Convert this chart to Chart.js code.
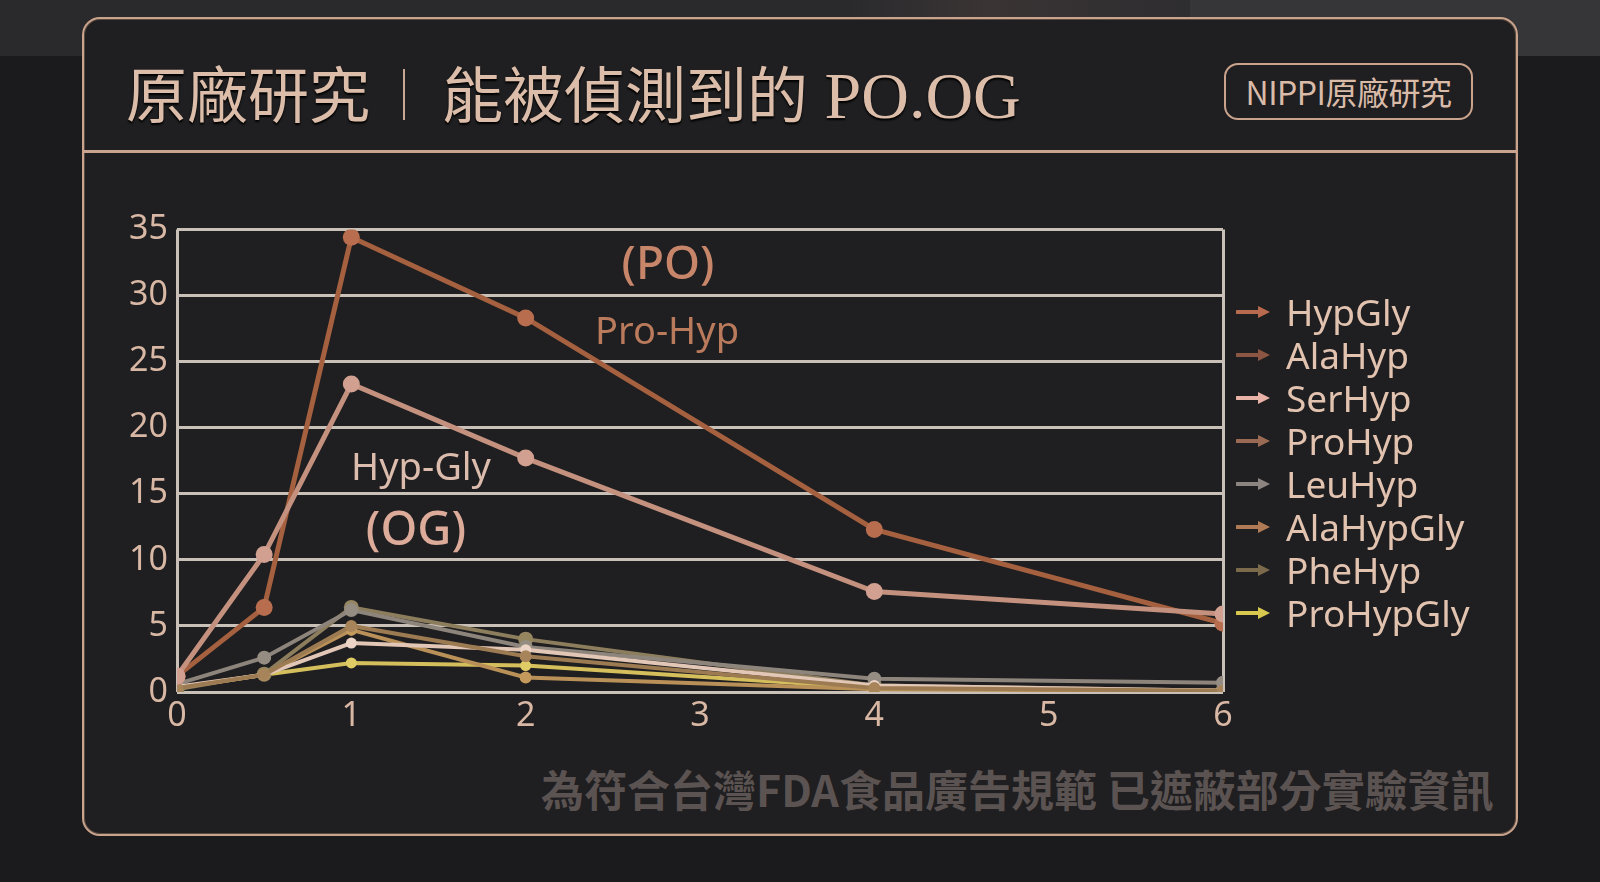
<!DOCTYPE html>
<html>
<head>
<meta charset="utf-8">
<script src="https://cdn.jsdelivr.net/npm/chart.js@4.4.1/dist/chart.umd.min.js"></script>
<style>
  html, body { margin: 0; padding: 0; }
  body {
    width: 1600px; height: 882px; position: relative; overflow: hidden;
    background: linear-gradient(#2a2a2d 0px, #2a2a2d 56px, #1b1b1d 56px, #1b1b1d 100%);
    font-family: "Noto Sans", "Noto Sans CJK TC", sans-serif;
  }
  #photo { position: absolute; left: 1190px; top: 0; width: 410px; height: 56px; background: #363537; }
  #photo2 { position: absolute; left: 850px; top: 0; width: 340px; height: 56px;
    background: linear-gradient(90deg, #2a2a2d, #3a3434 40%, #2e2d30); }
  #frame {
    position: absolute; left: 82px; top: 17px; width: 1432px; height: 815px;
    border: 2px solid #c9a38c; border-radius: 18px; background: #1f1e20;
    box-shadow: inset 0 0 0 1px #5a4a40;
  }
  #rule { position: absolute; left: 84px; top: 150px; width: 1432px; height: 3px; background: #c9a590; }
  #title {
    position: absolute; left: 126px; top: 52px; height: 80px; line-height: 80px;
    color: #dcbda9; font-size: 66px; white-space: nowrap;
    font-family: "Liberation Serif", "Noto Sans CJK TC", serif;
    text-shadow: 0 2px 2px #000;
  }
  #title .cjk { font-family: "Noto Sans CJK TC", sans-serif; font-weight: 400; font-size: 61px; }
  #bar { position: absolute; left: 403px; top: 69px; width: 2px; height: 51px; background: #c7a692; }
  #badge {
    position: absolute; left: 1224px; top: 63px; width: 245px; height: 53px;
    border: 2px solid #c9a38c; border-radius: 14px;
    color: #d9bba8; font-family: "Noto Sans CJK TC", sans-serif; font-size: 32px;
    line-height: 53px; text-align: center; white-space: nowrap; letter-spacing: -0.5px;
  }
  #chartBox { position: absolute; left: 100px; top: 200px; width: 1140px; height: 540px; }
  .note { position: absolute; transform: translate(-50%, -50%); white-space: nowrap;
    font-family: "Noto Sans", sans-serif; }
  #legend { position: absolute; left: 1236px; top: 290px; }
  .row { height: 43px; display: flex; align-items: center; }
  .row svg { margin-right: 14px; }
  .row span { color: #e2c3b0; font-size: 37px; font-family: "Noto Sans", sans-serif; }
  #foot {
    position: absolute; left: 541px; top: 757px; color: #5b5351;
    font-family: "Noto Sans CJK TC", sans-serif; font-weight: 700; font-size: 43px;
    white-space: nowrap;
  }
</style>
</head>
<body>
<div id="photo2"></div>
<div id="photo"></div>
<div id="frame"></div>
<div id="rule"></div>
<div id="title"><span class="cjk">原廠研究</span><span style="display:inline-block;width:72px"></span><span class="cjk">能被偵測到的</span> PO.OG</div>
<div id="bar"></div>
<div id="badge">NIPPI原廠研究</div>
<div id="chartBox"><canvas id="chart" width="1140" height="540"></canvas></div>
<div class="note" style="left:668px;top:261px;color:#c7866a;font-size:46px;font-weight:500">(PO)</div>
<div class="note" style="left:667px;top:329px;color:#ba7a5c;font-size:38px">Pro-Hyp</div>
<div class="note" style="left:421px;top:465px;color:#dcbcac;font-size:38px">Hyp-Gly</div>
<div class="note" style="left:416px;top:527px;color:#dcab9a;font-size:47px;font-weight:500">(OG)</div>
<div id="legend"></div>
<div id="foot">為符合台灣FDA食品廣告規範 已遮蔽部分實驗資訊</div>

<script>
// sampling times (x axis)
const hours = [0, 0.5, 1, 2, 4, 6];

// series values
const hypGly    = [1.2, 10.4, 23.3, 17.7, 7.6, 5.9];
const alaHyp    = [0.3, 1.3, 5.0, 2.7, 0.3, 0.1];
const serHyp    = [0.4, 1.3, 3.7, 3.2, 0.5, 0.1];
const proHyp    = [1.2, 6.4, 34.4, 28.3, 12.3, 5.2];
const leuHyp    = [0.6, 2.6, 6.2, 3.4, 1.0, 0.7];
const alaHypGly = [0.3, 1.3, 4.7, 1.1, 0.2, 0.1];
const pheHyp    = [0.2, 1.35, 6.4, 4.0, 0.5, 0.1];
const proHypGly = [0.3, 1.3, 2.2, 2.0, 0.3, 0.1];

const seriesNames = ['HypGly', 'AlaHyp', 'SerHyp', 'ProHyp', 'LeuHyp', 'AlaHypGly', 'PheHyp', 'ProHypGly'];
const seriesData = [hypGly, alaHyp, serHyp, proHyp, leuHyp, alaHypGly, pheHyp, proHypGly];

const yTicks = [0, 5, 10, 15, 20, 25, 30, 35];
const xTicks = [0, 1, 2, 3, 4, 5, 6];

// styling
const lineColors  = ['#c4917f', '#9c7a52', '#e2c6b6', '#a4603f', '#8d857c', '#b89058', '#8c7d5c', '#d4bf5c'];
const dotColors   = ['#d2a090', '#a8845a', '#ecd4c6', '#b86e4e', '#958c82', '#c49a5c', '#958660', '#e0cc66'];
const arrowColors = ['#b86a4e', '#8c5642', '#e8b2a6', '#9a6a54', '#8c8480', '#b07a55', '#7c6a4c', '#d8c850'];
const dotSizes    = [8.5, 6, 5.5, 8.5, 7, 6, 7.5, 5.5];
const lineWidths  = [5, 4, 4, 5, 4, 4, 4, 4];

const datasets = seriesNames.map((name, i) => ({
  label: name,
  data: hours.map((h, j) => ({ x: h, y: seriesData[i][j] })),
  borderColor: lineColors[i],
  backgroundColor: dotColors[i],
  pointBackgroundColor: dotColors[i],
  pointBorderWidth: 0,
  pointRadius: dotSizes[i],
  borderWidth: lineWidths[i],
  tension: 0
}));

const gridColor = '#c9c0b8';
const tickColor = '#d8b8a4';

const chart = new Chart(document.getElementById('chart'), {
  type: 'line',
  data: { datasets: datasets },
  options: {
    responsive: false,
    animation: false,
    devicePixelRatio: 1,
    layout: { padding: { top: 26, right: 17, left: 0, bottom: 0 } },
    plugins: { legend: { display: false }, tooltip: { enabled: false } },
    scales: {
      x: {
        type: 'linear', min: 0, max: 6,
        afterFit: s => { s.height = 48; },
        afterBuildTicks: s => { s.ticks = xTicks.map(v => ({ value: v })); },
        border: { display: false },
        grid: {
          drawTicks: false, lineWidth: 3,
          color: c => (c.tick && (c.tick.value === 0 || c.tick.value === 6)) ? gridColor : 'rgba(0,0,0,0)'
        },
        ticks: { color: tickColor, padding: 4, font: { family: 'Noto Sans', size: 34 } }
      },
      y: {
        min: 0, max: 35,
        afterFit: s => { s.width = 77; },
        afterBuildTicks: s => { s.ticks = yTicks.map(v => ({ value: v })); },
        border: { display: false },
        grid: { drawTicks: false, lineWidth: 3, color: gridColor },
        ticks: { color: tickColor, padding: 9, font: { family: 'Noto Sans', size: 34 } }
      }
    }
  }
});

// legend with arrow markers, built from the datasets
const legend = document.getElementById('legend');
chart.data.datasets.forEach((ds, i) => {
  const row = document.createElement('div');
  row.className = 'row';
  row.innerHTML =
    '<svg width="36" height="16" viewBox="0 0 36 16">' +
    '<line x1="1" y1="8" x2="26" y2="8" stroke="' + arrowColors[i] + '" stroke-width="4" stroke-linecap="round"/>' +
    '<polygon points="22,2 34,8 22,14" fill="' + arrowColors[i] + '"/></svg>' +
    '<span>' + ds.label + '</span>';
  legend.appendChild(row);
});
</script>
</body>
</html>
